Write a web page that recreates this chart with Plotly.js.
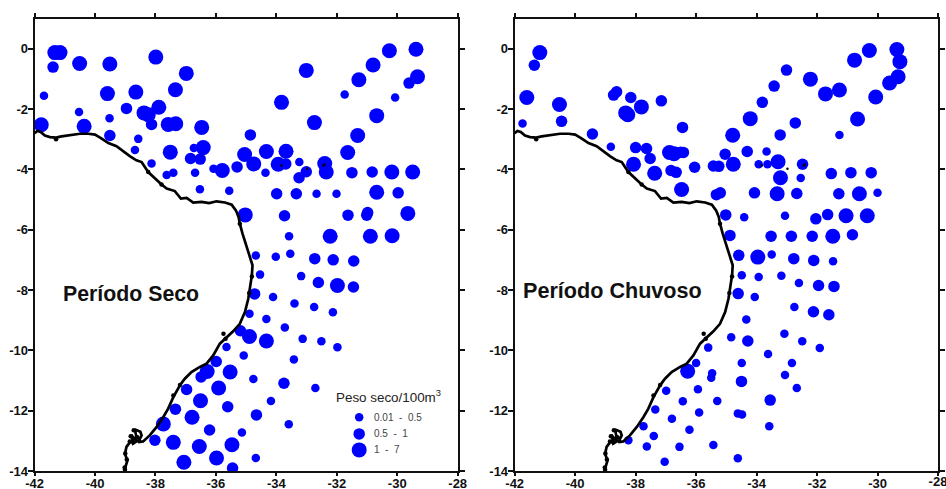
<!DOCTYPE html>
<html>
<head>
<meta charset="utf-8">
<script src="https://cdn.plot.ly/plotly-3.0.1.min.js"></script>
<style>html,body{margin:0;padding:0;background:#fff;overflow:hidden}#c{width:946px;height:489px}</style>
</head>
<body>
<div id="c"></div>
<script>
// class values: 1 = 0.01-0.5, 2 = 0.5-1, 3 = 1-7 (Peso seco/100m3)
const secoLon = [-41.33,-41.16,-41.39,-40.51,-39.51,-37.99,-36.98,-37.34,-38.65,-39.59,-41.69,-38.96,-40.53,-39.52,-38.38,-38.24,-37.89,-38.13,-41.78,-40.36,-37.58,-37.33,-36.47,-39.51,-38.57,-38.68,-37.51,-36.73,-36.42,-36.84,-36.52,-38.13,-37.63,-37.41,-36.69,-36.08,-35.79,-35.30,-36.53,-35.56,-35.05,-34.33,-34.75,-33.94,-33.69,-33.68,-34.36,-33.24,-34.86,-33.83,-32.74,-33.01,-31.74,-31.27,-30.80,-30.26,-29.38,-29.33,-29.61,-30.07,-30.68,-31.31,-31.64,-32.40,-32.35,-33.01,-33.25,-31.50,-30.83,-30.18,-29.49,-33.99,-33.34,-32.67,-32.01,-30.68,-29.97,-35.03,-33.73,-31.63,-30.98,-31.01,-29.65,-33.58,-32.22,-30.89,-30.17,-34.68,-34.02,-33.54,-32.73,-32.12,-31.44,-34.54,-33.18,-32.61,-31.98,-31.45,-34.72,-34.11,-33.40,-32.75,-32.13,-34.89,-34.33,-33.72,-35.19,-34.89,-34.33,-33.13,-32.51,-31.98,-35.08,-33.42,-34.76,-33.75,-32.71,-34.18,-34.66,-33.59,-35.14,-34.68,-35.65,-35.99,-36.29,-36.49,-35.53,-35.91,-36.97,-36.51,-37.34,-35.61,-36.79,-37.74,-36.21,-38.02,-37.41,-36.55,-35.47,-37.06,-35.98,-35.45];
const secoLat = [-0.13,-0.13,-0.61,-0.49,-0.51,-0.28,-0.82,-1.36,-1.44,-1.49,-1.56,-1.98,-2.10,-2.31,-2.13,-2.19,-1.94,-2.51,-2.52,-2.57,-2.51,-2.49,-2.61,-2.88,-2.99,-3.36,-3.43,-3.29,-3.28,-3.64,-3.66,-3.81,-4.19,-4.11,-4.11,-3.98,-4.04,-3.92,-4.66,-4.71,-3.51,-3.41,-3.82,-3.83,-3.82,-3.40,-4.11,-3.76,-2.86,-1.78,-2.45,-0.72,-1.52,-1.03,-0.54,-0.07,-0.02,-0.93,-1.14,-1.62,-2.22,-2.88,-3.44,-3.81,-4.09,-4.08,-4.28,-4.11,-4.09,-4.09,-4.09,-4.81,-4.81,-4.81,-4.81,-4.76,-4.78,-5.51,-5.54,-5.52,-5.43,-5.52,-5.46,-6.22,-6.22,-6.22,-6.20,-6.86,-6.90,-6.80,-6.96,-7.00,-7.04,-7.49,-7.54,-7.75,-7.85,-7.90,-8.13,-8.23,-8.45,-8.56,-8.74,-8.79,-8.96,-9.24,-9.35,-9.54,-9.69,-9.62,-9.70,-9.90,-10.17,-10.30,-10.95,-11.09,-11.25,-11.68,-12.14,-12.45,-12.72,-13.57,-9.89,-10.37,-10.70,-10.88,-10.72,-11.25,-11.30,-11.67,-11.95,-11.87,-12.22,-12.44,-12.64,-12.98,-13.05,-13.19,-13.13,-13.71,-13.57,-13.90];
const secoClasse = [3,3,2,3,3,3,3,3,3,3,1,2,1,1,3,3,3,2,3,3,3,3,3,2,1,1,3,1,3,2,2,1,1,1,1,1,3,2,1,1,
  3,3,3,3,2,3,1,1,2,3,3,3,1,3,3,3,3,3,2,1,3,3,3,3,3,2,2,2,2,3,3,
  2,2,1,1,3,2,3,2,2,2,2,3,1,3,3,3,
  1,1,1,2,2,2,1,1,2,3,2,2,1,1,1,1,1,1,1,2,3,3,1,1,1,1,1,1,2,1,1,2,1,1,1,
  1,2,3,2,3,3,2,3,2,2,3,3,2,2,3,3,3,3,3,2];

const chuvaLon = [-41.17,-41.35,-41.60,-40.52,-40.45,-41.74,-39.43,-38.82,-38.73,-38.63,-38.16,-37.81,-37.15,-38.33,-38.26,-36.45,-38.00,-37.64,-37.52,-38.07,-37.37,-36.83,-36.66,-36.88,-36.73,-36.51,-36.42,-36.05,-36.48,-29.36,-30.27,-30.76,-29.26,-29.32,-29.60,-30.06,-31.26,-31.72,-32.22,-33.01,-33.42,-33.81,-34.21,-34.79,-32.72,-33.22,-30.66,-31.26,-35.04,-34.31,-33.67,-35.43,-35.25,-34.77,-33.93,-33.64,-33.29,-32.48,-33.21,-32.54,-31.53,-30.88,-30.21,-35.33,-35.20,-34.07,-33.32,-32.67,-31.28,-30.60,-30.00,-35.02,-34.41,-33.06,-32.04,-31.65,-31.04,-30.34,-34.88,-33.52,-32.85,-32.16,-31.48,-30.83,-34.59,-33.96,-33.50,-32.77,-32.11,-31.47,-34.49,-33.93,-33.18,-32.60,-31.95,-31.44,-34.61,-34.06,-32.75,-32.12,-31.61,-34.34,-33.08,-34.84,-34.29,-32.49,-31.91,-35.60,-33.62,-34.49,-32.83,-35.47,-35.50,-33.06,-34.50,-32.67,-35.30,-33.55,-34.62,-34.48,-33.58,-35.43,-34.62,-36.00,-36.28,-35.94,-36.99,-36.44,-37.35,-35.90,-36.80,-37.74,-36.22,-38.24,-37.40,-37.63,-36.55,-37.04];
const chuvaLat = [-0.13,-0.55,-1.62,-1.85,-2.41,-2.48,-2.83,-3.25,-1.54,-1.43,-1.62,-1.93,-1.73,-2.13,-2.19,-2.61,-3.28,-3.31,-3.64,-3.83,-4.13,-4.04,-4.10,-3.44,-3.48,-3.43,-3.44,-3.93,-4.67,-0.03,-0.06,-0.38,-0.43,-0.93,-1.14,-1.60,-1.37,-1.50,-1.01,-0.71,-1.24,-1.78,-2.32,-2.87,-2.46,-2.86,-2.33,-2.86,-3.50,-3.41,-3.41,-3.89,-3.90,-3.83,-3.83,-3.83,-3.75,-3.83,-4.28,-4.29,-4.14,-4.11,-4.11,-4.84,-4.78,-4.78,-4.81,-4.80,-4.81,-4.81,-4.78,-5.51,-5.59,-5.54,-5.64,-5.50,-5.54,-5.54,-6.19,-6.22,-6.22,-6.22,-6.22,-6.17,-6.85,-6.91,-6.82,-6.96,-7.02,-7.05,-7.51,-7.57,-7.53,-7.77,-7.85,-7.88,-8.12,-8.23,-8.56,-8.72,-8.82,-8.98,-9.45,-9.57,-9.69,-9.70,-9.92,-9.91,-10.12,-10.42,-10.42,-10.76,-10.91,-10.82,-11.03,-11.25,-11.68,-11.65,-12.09,-12.13,-12.52,-13.14,-13.58,-10.42,-10.69,-11.29,-11.34,-11.69,-11.96,-12.06,-12.27,-12.52,-12.63,-12.98,-12.84,-13.19,-13.20,-13.69];
const chuvaClasse = [3,2,3,3,2,1,2,1,2,2,2,3,2,3,3,2,2,2,2,3,3,2,2,3,3,2,2,2,3,
  3,3,3,3,3,3,3,3,3,3,2,2,2,3,3,2,2,3,1,
  2,2,1,2,2,3,1,1,3,2,3,1,2,2,2,
  2,2,2,3,2,2,3,1,
  2,1,1,2,2,3,3,
  2,2,2,2,3,2,
  2,3,1,2,2,1,
  1,1,1,1,2,2,
  2,1,
  1,2,2,
  1,1,1,2,1,1,
  1,1,1,1,1,1,1,2,1,1,2,1,1,1,1,1,
  1,3,1,1,1,1,1,1,1,1,1,1,1,1,1];

const costaLon = [-42.00,-41.91,-41.80,-41.66,-41.49,-41.29,-41.11,-40.83,-40.50,-40.22,-40.00,-39.78,-39.56,-39.29,-39.07,-38.85,-38.63,-38.46,-38.24,-38.02,-37.80,-37.63,-37.36,-37.25,-37.16,-36.97,-36.75,-36.48,-36.22,-35.98,-35.70,-35.48,-35.34,-35.25,-35.21,-35.12,-34.99,-34.88,-34.79,-34.81,-34.86,-34.93,-35.04,-35.21,-35.43,-35.65,-35.87,-36.09,-36.31,-36.53,-36.81,-37.03,-37.19,-37.41,-37.58,-37.74,-37.96,-38.19,-38.41,-38.57,-38.46,-38.50,-38.68,-38.62,-38.82,-38.60,-38.74,-38.80,-38.70,-38.85,-38.96,-39.01,-38.93,-39.01,-39.03];
const costaLat = [-2.80,-2.73,-2.76,-2.88,-2.93,-2.95,-2.91,-2.88,-2.82,-2.82,-2.85,-2.98,-3.13,-3.23,-3.40,-3.56,-3.70,-3.76,-4.09,-4.31,-4.50,-4.64,-4.72,-4.86,-4.97,-4.95,-5.10,-5.08,-5.12,-5.06,-5.10,-5.17,-5.36,-5.58,-5.80,-6.13,-6.52,-6.91,-7.18,-7.51,-7.90,-8.29,-8.73,-9.12,-9.37,-9.56,-9.78,-10.17,-10.44,-10.55,-10.72,-10.94,-11.16,-11.55,-11.93,-12.21,-12.54,-12.82,-13.02,-13.04,-12.82,-12.70,-12.62,-12.95,-12.84,-13.00,-13.09,-12.80,-12.95,-13.05,-13.20,-13.43,-13.65,-13.92,-14.00];
const recorteLon = [-41.29,-38.24,-37.80,-35.21,-34.81,-34.90,-35.75,-35.68,-37.41,-37.19,-38.72,-38.82,-38.60,-38.85,-38.74,-39.00,-38.95,-39.02,-39.01];
const recorteLat = [-3.00,-4.09,-4.50,-5.80,-7.55,-8.10,-9.45,-9.62,-11.50,-11.15,-12.65,-12.85,-12.88,-13.02,-13.05,-13.42,-13.62,-13.88,-13.95];
const ilhasLon = [-33.83,-32.98,-32.44,-32.41];
const ilhasLat = [-3.87,-3.98,-3.87,-3.84];

const legendaLat = [-12.22,-12.77,-13.30];
const legendaLon = [-31.26,-31.26,-31.26];
const legendaClasse = [1,2,3];
const legendaTexto = ['0.01  -  0.5','0.5  -  1','1  -  7'];

const tickX = [-42,-40,-38,-36,-34,-32,-30,-28];
const tickXText = ['-42','-40','-38','-36','-34','-32','-30','-28'];
const tickXTextChuva = ['-42','-40','-38','-36','-34','-32','-30',''];
const tickY = [0,-2,-4,-6,-8,-10,-12,-14];
const tickYText = ['0','-2','-4','-6','-8','-10','-12','-14'];

const diam = {1:8.5, 2:11.5, 3:15};
const BLUE = '#0000FF';
const W = 946, H = 489;
function dots(x,y,c,xa,ya){
  return {type:'scatter',mode:'markers',x,y,xaxis:xa,yaxis:ya,hoverinfo:'skip',
    marker:{color:BLUE,opacity:1,size:c.map(v=>diam[v]),line:{width:0}}};
}
function costa(xa,ya){
  return {type:'scatter',mode:'lines',x:costaLon,y:costaLat,xaxis:xa,yaxis:ya,hoverinfo:'skip',
    line:{color:'#000',width:2.7,shape:'linear'}};
}
function pontos(x,y,s,xa,ya){
  return {type:'scatter',mode:'markers',x,y,xaxis:xa,yaxis:ya,hoverinfo:'skip',
    marker:{color:'#000',size:s,opacity:1}};
}
const font = {family:'"Liberation Sans",Arial,sans-serif',size:13,color:'#000'};
const bold = {family:'"Liberation Sans",Arial,sans-serif',size:13,color:'#111',weight:700};
const data = [
  dots(secoLon,secoLat,secoClasse,'x','y'),
  costa('x','y'),
  pontos(recorteLon,recorteLat,4.5,'x','y'),
  pontos(ilhasLon,ilhasLat,2.5,'x','y'),
  dots(legendaLon,legendaLat,legendaClasse,'x','y'),
  dots(chuvaLon,chuvaLat,chuvaClasse,'x2','y2'),
  costa('x2','y2'),
  pontos(recorteLon,recorteLat,4.5,'x2','y2'),
  pontos(ilhasLon,ilhasLat,2.5,'x2','y2'),
  {type:'scatter',mode:'text',x:[tickX[7]],y:[6],xaxis:'x2',yaxis:'y3',text:[tickXText[7]],textposition:'middle center',textfont:bold,cliponaxis:false,hoverinfo:'skip'}
];
function xax(dom,anchor,txt){
  return {domain:dom,anchor,range:[-42,-28],tickvals:tickX,ticktext:txt,ticks:'outside',ticklen:3,tickwidth:2,tickcolor:'#111',
    showline:true,linewidth:2,linecolor:'#111',mirror:true,showgrid:false,zeroline:false,tickfont:bold,tickangle:0,fixedrange:true,automargin:false,ticklabelstandoff:-4};
}
function xtop(dom,anchor,over){
  return {domain:dom,anchor,overlaying:over,side:'top',range:[-42,-28],tickvals:tickX,showticklabels:false,ticks:'outside',ticklen:5,tickwidth:2,tickcolor:'#111',showline:false,showgrid:false,zeroline:false,fixedrange:true};
}
function yax(anchor){
  return {domain:[(H-471)/H,(H-18.5)/H],anchor,range:[-14,1],tickvals:tickY,ticktext:tickYText,ticks:'outside',ticklen:5,tickwidth:2,tickcolor:'#111',
    showline:true,linewidth:2,linecolor:'#111',mirror:'ticks',showgrid:false,zeroline:false,tickfont:bold,fixedrange:true,automargin:false,ticklabelstandoff:-3};
}
const d1=[34.6/W,457.7/W], d2=[514.7/W,938/W];
const annos = [
  {xref:'paper',yref:'paper',x:61/W,y:(H-294)/H,xanchor:'left',yanchor:'middle',showarrow:false,text:'Período Seco',font:{family:font.family,size:21.3,color:'#111',weight:700}},
  {xref:'paper',yref:'paper',x:521/W,y:(H-290.5)/H,xanchor:'left',yanchor:'middle',showarrow:false,text:'Período Chuvoso',font:{family:font.family,size:21.6,color:'#111',weight:700}},
  {xref:'paper',yref:'paper',x:334/W,y:(H-396.5)/H,xanchor:'left',yanchor:'middle',showarrow:false,text:'Peso seco/100m<sup>3</sup>',font:{family:font.family,size:13.4,color:'#222'}}
];
legendaTexto.forEach((t,i)=>annos.push({xref:'x',yref:'y',x:-30.82,y:legendaLat[i],xanchor:'left',yanchor:'middle',showarrow:false,text:t.replace(/ /g,'\u00a0'),font:{family:font.family,size:10,color:'#444'}}));
const layout = {
  width:W,height:H,margin:{l:0,r:0,t:0,b:0,pad:0,autoexpand:false},paper_bgcolor:'#fff',plot_bgcolor:'rgba(0,0,0,0)',showlegend:false,font,
  xaxis:xax(d1,'y',tickXText),yaxis:yax('x'),
  xaxis2:xax(d2,'y2',tickXTextChuva),yaxis2:yax('x2'),
  xaxis3:xtop(d1,'y','x'),xaxis4:xtop(d2,'y2','x2'),
  yaxis3:{domain:[0,1],anchor:'x2',range:[0,H],visible:false,fixedrange:true},
  annotations:annos
};
data.push({type:'scatter',mode:'none',x:[-42],y:[0],xaxis:'x3',yaxis:'y',hoverinfo:'skip'});
data.push({type:'scatter',mode:'none',x:[-42],y:[0],xaxis:'x4',yaxis:'y2',hoverinfo:'skip'});
Plotly.newPlot('c',data,layout,{displayModeBar:false,staticPlot:true});
</script>
</body>
</html>
